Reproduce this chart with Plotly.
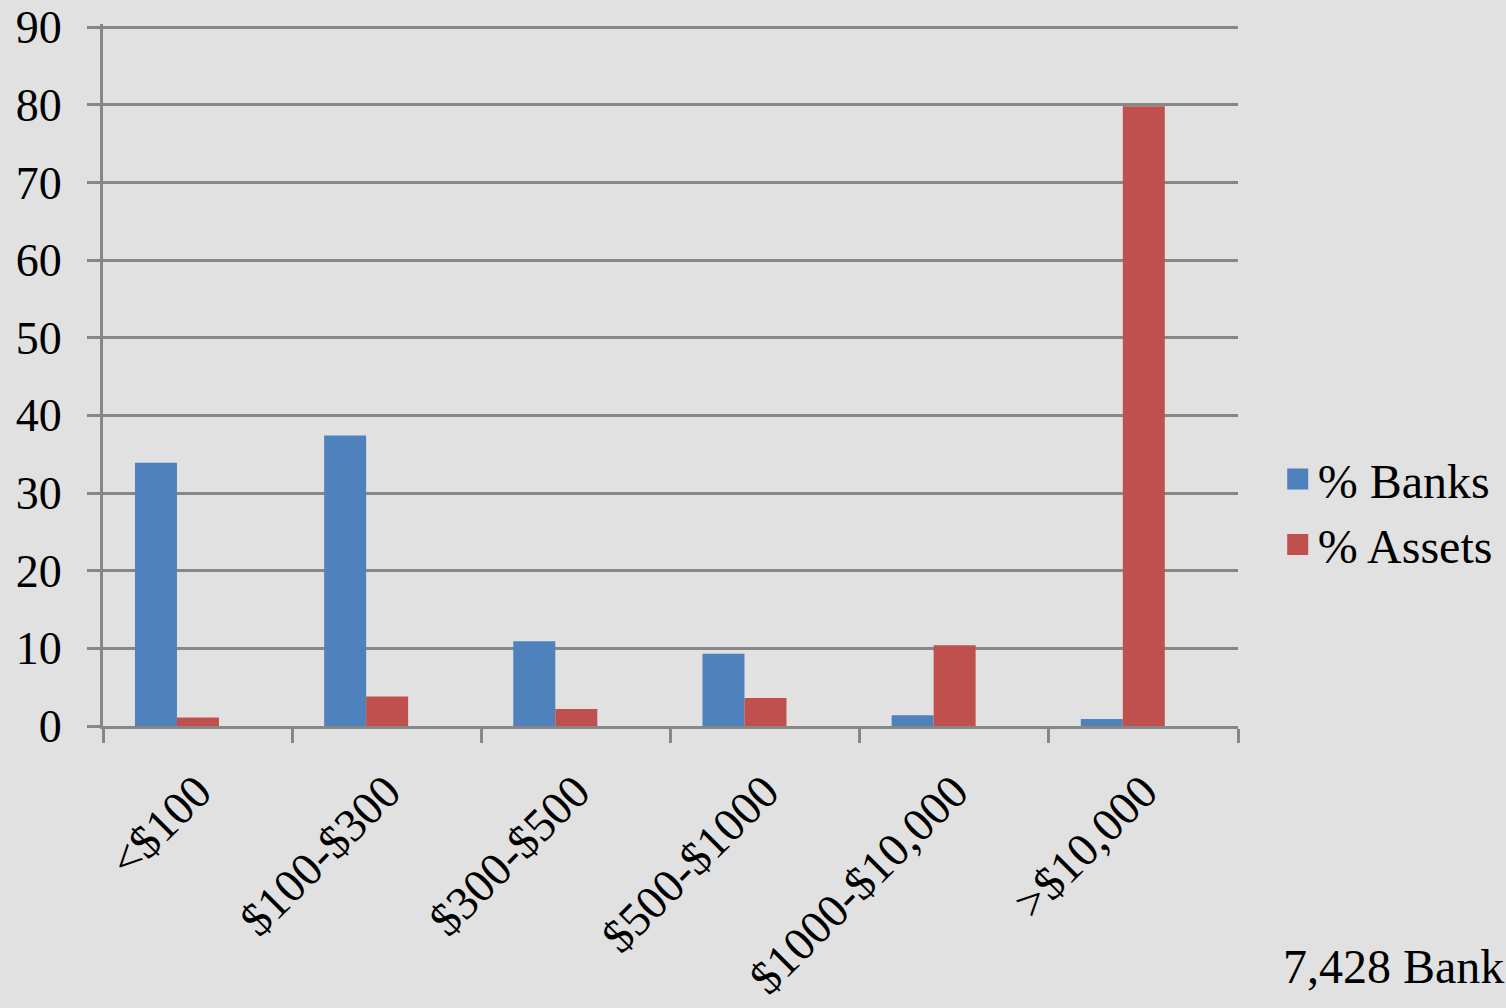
import plotly.graph_objects as go

# Bank size classes (assets, $ millions) and shares
categories = ["<$100", "$100-$300", "$300-$500", "$500-$1000", "$1000-$10,000", ">$10,000"]
pct_banks = [33.9, 37.4, 10.9, 9.3, 1.4, 0.9]
pct_assets = [1.1, 3.8, 2.2, 3.6, 10.4, 79.8]
series_names = ["% Banks", "% Assets"]
series_colors = ["#4f81bd", "#c0504d"]

FONT = "Liberation Serif"
GRID = "#878787"
BG = "#e1e1e1"

fig = go.Figure()
for vals, name, color, off in zip([pct_banks, pct_assets], series_names, series_colors, [-0.331, -0.109]):
    fig.add_trace(go.Bar(
        x=categories, y=vals, name=name,
        marker=dict(color=color, line=dict(width=0)),
        width=0.222, offset=off, showlegend=False,
    ))

# legend keys: larger square swatches than the default bar icon
for i, (name, color) in enumerate(zip(series_names, series_colors)):
    fig.add_trace(go.Scatter(
        x=[None], y=[None], mode="markers", name=name,
        marker=dict(symbol="square", size=16, color=color, line=dict(width=5, color=color)),
        legendgroup=f"g{i}", hoverinfo="skip",
    ))

fig.update_layout(
    width=1506, height=1008,
    margin=dict(l=103, r=268, t=24, b=282, autoexpand=False),
    paper_bgcolor=BG, plot_bgcolor=BG,
    font=dict(family=FONT, size=46, color="black"),
    barmode="overlay",
    showlegend=True,
    legend=dict(
        x=1.035, xanchor="left", y=0.305, yanchor="middle",
        bgcolor="rgba(0,0,0,0)", font=dict(family=FONT, size=48),
        tracegroupgap=0, itemwidth=30, itemsizing="trace",
    ),
    xaxis=dict(
        type="category", tickson="boundaries", automargin=False,
        showline=True, linecolor=GRID, linewidth=3,
        ticks="outside", ticklen=14, tickwidth=3, tickcolor=GRID,
        tickangle=-45, tickfont=dict(family=FONT, size=47),
        ticklabelstandoff=16,
        showgrid=False, range=[-0.5, 5.5],
    ),
    yaxis=dict(
        range=[0, 90.4], dtick=10, tick0=0, automargin=False,
        showline=True, linecolor=GRID, linewidth=3,
        ticks="outside", ticklen=13, tickwidth=3, tickcolor=GRID,
        showgrid=True, gridcolor=GRID, gridwidth=3,
        zeroline=False, tickfont=dict(family=FONT, size=46),
        ticklabelstandoff=16,
    ),
    annotations=[dict(
        text="7,428 Bank", xref="paper", yref="paper",
        x=(1506 - 103) / 1135, xanchor="right",
        y=-(995 - 726) / 702, yanchor="bottom",
        showarrow=False, font=dict(family=FONT, size=48, color="black"),
    )],
)

fig.write_html("out.html")
